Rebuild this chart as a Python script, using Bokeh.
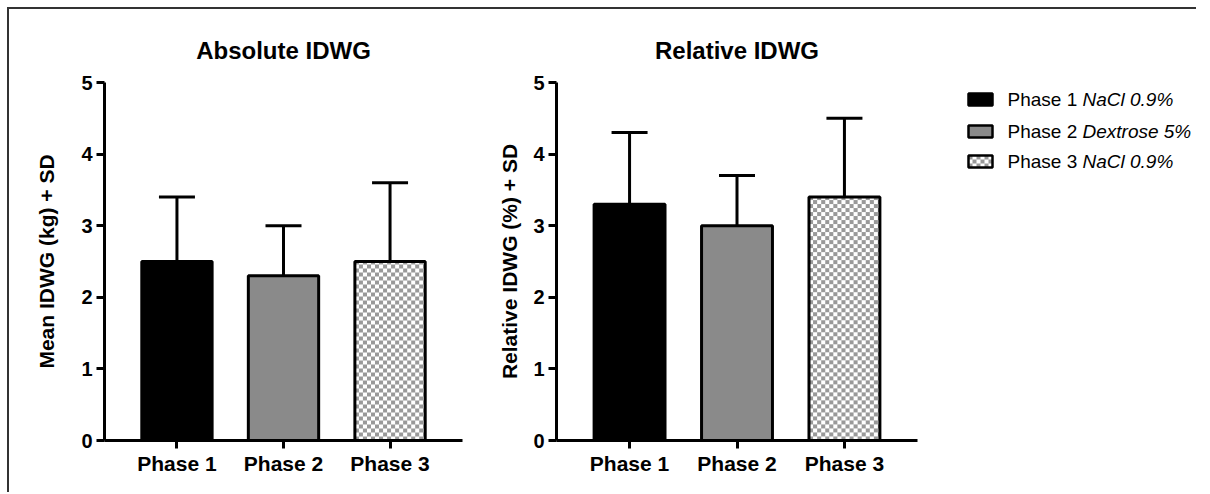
import numpy as np
from bokeh.plotting import figure
from bokeh.layouts import row, column
from bokeh.models import (Range1d, FixedTicker, Whisker, ColumnDataSource, Title,
                          TeeHead, Spacer)
from bokeh.core.properties import value
from bokeh.embed import file_html
from bokeh.resources import INLINE

# ---------------- data ----------------
phases = ["Phase 1", "Phase 2", "Phase 3"]
abs_mean = [2.5, 2.3, 2.5]
abs_sd = [0.9, 0.7, 1.1]
rel_mean = [3.3, 3.0, 3.4]
rel_sd = [1.0, 0.7, 1.1]
y_ticks = [0, 1, 2, 3, 4, 5]
legend_main = ["Phase 1", "Phase 2", "Phase 3"]
legend_sub = ["NaCl 0.9%", "Dextrose 5%", "NaCl 0.9%"]

# ---------------- styles ----------------
FONT = "Liberation Sans"
bar_fill = ["#000000", "#8a8a8a", "#ffffff"]
checkered = [False, False, True]
CHECK_RGB = (0x99, 0x99, 0x99)
CELL = 4

TOP, BOTTOM = 73, 47
FIG_H = 478
FRAME_H = FIG_H - TOP - BOTTOM
X0, X1 = 0.32, 3.68
BAR_W = 0.66
Y_MAX = 5
EDGE = "#333333"


def checker_image(w_px, h_px):
    w_px, h_px = max(int(round(w_px)), 1), max(int(round(h_px)), 1)
    yy, xx = np.mgrid[0:h_px, 0:w_px]
    mask = ((xx // CELL + yy // CELL) % 2) == 0
    img = np.empty((h_px, w_px), dtype=np.uint32)
    v = img.view(dtype=np.uint8).reshape((h_px, w_px, 4))
    v[..., :3] = 255
    v[..., 3] = 255
    v[mask, 0] = CHECK_RGB[0]
    v[mask, 1] = CHECK_RGB[1]
    v[mask, 2] = CHECK_RGB[2]
    return img


def make_chart(title, ylabel, means, sds, width, left, right, label_standoff):
    xs = list(range(1, len(phases) + 1))
    tops = [m + s for m, s in zip(means, sds)]
    src = ColumnDataSource(dict(x=xs, mean=means, top=tops, fill=bar_fill))
    p = figure(width=width, height=FIG_H, output_backend="svg", toolbar_location=None,
               x_range=Range1d(X0, X1), y_range=Range1d(0, Y_MAX),
               min_border_left=left, min_border_right=right,
               min_border_top=TOP, min_border_bottom=BOTTOM)
    p.title = None
    p.add_layout(Title(text=title, align="center", text_font=FONT, text_font_size="24px",
                       text_font_style="bold", text_color="black", standoff=37), "above")
    # bar fills
    p.vbar(x="x", top="mean", bottom=0, width=BAR_W, source=src, fill_color="fill",
           line_color=None)
    # checkerboard fill for the patterned bar(s)
    frame_w = width - left - right
    px_x = frame_w / (X1 - X0)
    px_y = FRAME_H / Y_MAX
    for x, m, c in zip(xs, means, checkered):
        if c:
            img = checker_image(BAR_W * px_x, m * px_y)
            p.image_rgba(image=[img], x=x - BAR_W / 2, y=0, dw=BAR_W, dh=m)
    # bar outlines
    p.vbar(x="x", top="mean", bottom=0, width=BAR_W, source=src, fill_color=None,
           line_color="black", line_width=3)
    w = Whisker(base="x", lower="mean", upper="top", source=src, dimension="height",
                line_color="black", line_width=3,
                upper_head=TeeHead(size=36, line_width=3, line_color="black"),
                lower_head=None)
    p.add_layout(w)
    p.xgrid.visible = False
    p.ygrid.visible = False
    p.outline_line_color = None
    for ax in (p.xaxis[0], p.yaxis[0]):
        ax.axis_line_width = 3
        ax.axis_line_color = "black"
        ax.major_tick_line_width = 3
        ax.major_tick_line_color = "black"
        ax.major_tick_in = 0
        ax.major_tick_out = 8
        ax.minor_tick_line_color = None
        ax.major_label_text_font = FONT
        ax.major_label_text_font_style = "bold"
        ax.major_label_text_color = "black"
    p.xaxis.ticker = FixedTicker(ticks=xs)
    p.xaxis.major_label_overrides = {x: lab for x, lab in zip(xs, phases)}
    p.xaxis.major_label_text_font_size = "21px"
    p.xaxis.major_label_standoff = 3
    p.yaxis.ticker = FixedTicker(ticks=y_ticks)
    p.yaxis.major_label_text_font_size = "20px"
    p.yaxis.major_label_standoff = 4
    p.yaxis.axis_label = ylabel
    p.yaxis.axis_label_text_font = FONT
    p.yaxis.axis_label_text_font_size = "21px"
    p.yaxis.axis_label_text_font_style = "bold"
    p.yaxis.axis_label_text_color = "black"
    p.yaxis.axis_label_standoff = label_standoff
    return p


W1, W2 = 463, 474
p1 = make_chart("Absolute IDWG", "Mean IDWG (kg) + SD", abs_mean, abs_sd, W1, 95, 10, 20)
p2 = make_chart("Relative IDWG", "Relative IDWG (%) + SD", rel_mean, rel_sd, W2, 84, 29, 9)

# ---------------- legend (coordinates = pixel position on the page) ----------------
LX0, LW = 946, 250
frame_top = 9 + TOP
frame_bot = 9 + FIG_H - BOTTOM
leg = figure(width=LW, height=FIG_H, output_backend="svg", toolbar_location=None,
             x_range=Range1d(LX0, LX0 + LW), y_range=Range1d(frame_bot, frame_top),
             x_axis_location=None, y_axis_location=None,
             min_border_left=0, min_border_right=0,
             min_border_top=TOP, min_border_bottom=BOTTOM)
leg.xgrid.visible = False
leg.ygrid.visible = False
leg.outline_line_color = None
ly = [99, 131, 161]
PW, PH = 24, 12
lsrc = ColumnDataSource(dict(x=[980] * 3, y=ly, fill=bar_fill,
                             main=legend_main, sub=legend_sub,
                             tx=[1007] * 3, sx=[1082] * 3))
leg.rect(x="x", y="y", width=PW, height=PH, width_units="screen", height_units="screen",
         source=lsrc, fill_color="fill", line_color=None)
for y, c in zip(ly, checkered):
    if c:
        leg.image_rgba(image=[checker_image(PW, PH)], x=980 - PW / 2, y=y - PH / 2,
                       dw=PW, dh=PH)
leg.rect(x="x", y="y", width=PW, height=PH, width_units="screen", height_units="screen",
         source=lsrc, fill_color=None, line_color="black", line_width=2.5)
leg.text(x="tx", y="y", text="main", source=lsrc, text_font=value(FONT),
         text_font_size="19px", text_baseline="middle", text_color="black")
leg.text(x="sx", y="y", text="sub", source=lsrc, text_font=value(FONT),
         text_font_size="19px", text_font_style="italic", text_baseline="middle",
         text_color="black")

top_line = Spacer(width=2 + W1 + W2 + LW, height=2, margin=0,
                  styles={"background-color": EDGE})
left_line = Spacer(width=2, height=483, margin=0, styles={"background-color": EDGE})
content = row(left_line, p1, p2, leg)
framed = column(top_line, content)
layout = column(Spacer(height=7), row(Spacer(width=7), framed))
open("out.html", "w").write(file_html(layout, INLINE))
